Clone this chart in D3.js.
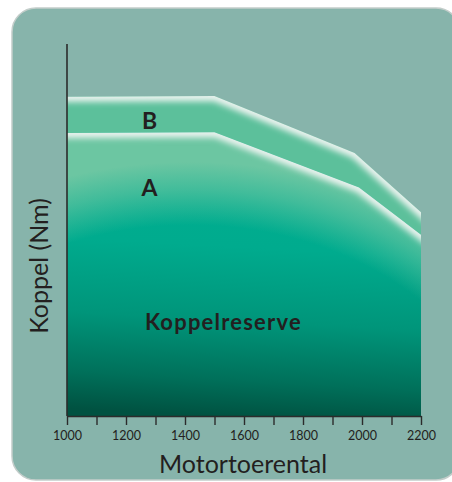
<!DOCTYPE html>
<html lang="nl">
<head>
  <meta charset="UTF-8" />
  <title>Koppelreserve</title>
  <script src="https://d3js.org/d3.v7.min.js"></script>
  <style>
    html, body { margin: 0; padding: 0; background: #fff; overflow: hidden; }
    svg { display: block; }
    .axis path, .axis line { stroke: #2b2b2b; stroke-width: 1.4px; }
    .axis text { font-family: Lato, "Open Sans", sans-serif; font-size: 12.5px; fill: #231f20; }
    .title { font-family: Lato, "Open Sans", sans-serif; font-size: 25px; fill: #231f20; }
    .label { font-family: Lato, "Open Sans", sans-serif; font-weight: bold; fill: #231f20; }
  </style>
</head>
<body>
  <svg width="452" height="482"></svg>
  <script>
    // toerental (rpm) en koppel (relatief, 0-100) van de twee curves
    const rpmB = [1000, 1500, 1975, 2200];
    const torqueB = [85.8, 86.0, 70.7, 54.8];
    const rpmA = [1000, 1500, 1990, 2200];
    const torqueA = [76.1, 76.3, 61.4, 48.7];
    const xTicks = [1000, 1100, 1200, 1300, 1400, 1500, 1600, 1700, 1800, 1900, 2000, 2100, 2200];
    const xTickLabels = [1000, 1200, 1400, 1600, 1800, 2000, 2200];

    const svg = d3.select("svg");
    const defs = svg.append("defs");

    // achtergrondpaneel
    svg.append("rect")
      .attr("x", 12).attr("y", 8)
      .attr("width", 448).attr("height", 472)
      .attr("rx", 24)
      .attr("fill", "#87b4ab")
      .attr("stroke", "#c3cdca")
      .attr("stroke-width", 1.5);

    const x = d3.scaleLinear().domain([1000, 2200]).range([67, 421]);
    const y = d3.scaleLinear().domain([0, 100]).range([416, 44]);

    const ptsB = rpmB.map((r, i) => [x(r), y(torqueB[i])]);
    const ptsA = rpmA.map((r, i) => [x(r), y(torqueA[i])]);

    const area = d3.area().x(d => d[0]).y0(y(0)).y1(d => d[1]);
    const line = d3.line();

    // highlight-lijn iets verlengd zodat de vervaging niet afloopt aan de randen
    function extend(pts) {
      const n = pts.length;
      const a = pts[n - 2], b = pts[n - 1];
      const dx = b[0] - a[0], dy = b[1] - a[1];
      const len = Math.hypot(dx, dy);
      return [[pts[0][0] - 20, pts[0][1]], ...pts, [b[0] + dx / len * 20, b[1] + dy / len * 20]];
    }

    // verlopen
    const lin = defs.append("linearGradient")
      .attr("id", "gradA")
      .attr("gradientUnits", "userSpaceOnUse")
      .attr("x1", 230).attr("y1", y(torqueA[0]))
      .attr("x2", 215).attr("y2", y(0));
    [[0, "#00b090"], [0.4, "#00ab8e"], [0.66, "#00957a"], [0.87, "#00705a"], [1, "#005241"]]
      .forEach(([o, c]) => lin.append("stop").attr("offset", o).attr("stop-color", c));

    const rad = defs.append("radialGradient")
      .attr("id", "glowA")
      .attr("gradientUnits", "userSpaceOnUse")
      .attr("cx", 190).attr("cy", 470).attr("r", 350)
      .attr("gradientTransform", "translate(190,470) scale(1.3,1) translate(-190,-470)");
    [[0, 0], [0.7, 0], [0.8, 0.6], [0.88, 1], [1, 1]]
      .forEach(([o, a]) => rad.append("stop").attr("offset", o)
        .attr("stop-color", "#6cc6a2").attr("stop-opacity", a));

    defs.append("filter")
      .attr("id", "soft")
      .attr("filterUnits", "userSpaceOnUse")
      .attr("x", 0).attr("y", 0).attr("width", 452).attr("height", 482)
      .append("feGaussianBlur").attr("stdDeviation", 3);

    defs.append("clipPath").attr("id", "clipB")
      .append("path").attr("d", area(ptsB));
    defs.append("clipPath").attr("id", "clipA")
      .append("path").attr("d", area(ptsA));

    // band B
    svg.append("path").attr("d", area(ptsB)).attr("fill", "#5cc09b");
    svg.append("g").attr("clip-path", "url(#clipB)")
      .append("path")
      .attr("d", line(extend(ptsB)))
      .attr("fill", "none")
      .attr("stroke", "#f0f4f2")
      .attr("stroke-width", 10)
      .attr("filter", "url(#soft)");

    // gebied A
    svg.append("path").attr("d", area(ptsA)).attr("fill", "url(#gradA)");
    svg.append("path").attr("d", area(ptsA)).attr("fill", "url(#glowA)");
    svg.append("g").attr("clip-path", "url(#clipA)")
      .append("path")
      .attr("d", line(extend(ptsA)))
      .attr("fill", "none")
      .attr("stroke", "#f0f4f2")
      .attr("stroke-width", 10)
      .attr("filter", "url(#soft)");

    // assen
    svg.append("g")
      .attr("class", "axis")
      .attr("transform", `translate(0,${y(0)})`)
      .call(d3.axisBottom(x)
        .tickValues(xTicks)
        .tickSize(9)
        .tickPadding(6)
        .tickSizeOuter(0)
        .tickFormat(d => xTickLabels.includes(d) ? d : ""));

    svg.append("line")
      .attr("x1", x(1000)).attr("x2", x(1000))
      .attr("y1", y(100)).attr("y2", y(0))
      .attr("stroke", "#2b2b2b")
      .attr("stroke-width", 1.6);

    // labels
    svg.append("text").attr("class", "label")
      .attr("x", x(1280)).attr("y", y(77.2))
      .attr("text-anchor", "middle").attr("font-size", 23)
      .text("B");
    svg.append("text").attr("class", "label")
      .attr("x", x(1280)).attr("y", y(59.1))
      .attr("text-anchor", "middle").attr("font-size", 23)
      .text("A");
    svg.append("text").attr("class", "label")
      .attr("x", x(1264)).attr("y", y(23.1))
      .attr("font-size", 22)
      .attr("letter-spacing", 1.2)
      .text("Koppelreserve");

    svg.append("text").attr("class", "title")
      .attr("x", (x(1000) + x(2200)) / 2 - 1).attr("y", 473)
      .attr("text-anchor", "middle")
      .text("Motortoerental");
    svg.append("text").attr("class", "title")
      .attr("transform", "translate(48,266) rotate(-90)")
      .attr("text-anchor", "middle")
      .text("Koppel (Nm)");
  </script>
</body>
</html>
